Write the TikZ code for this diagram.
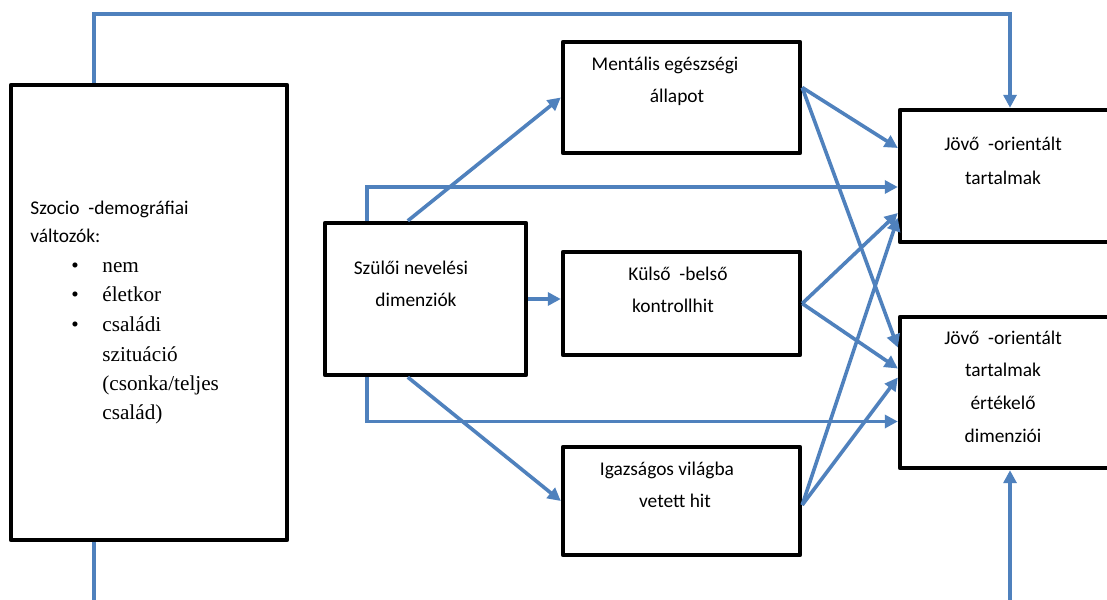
\documentclass[tikz,border=0pt]{standalone}
\usepackage{fontspec}
\setmainfont{Carlito}
\newfontfamily\timesfont{Liberation Serif}
\usepackage{tikz}
\usetikzlibrary{calc,arrows.meta}
\definecolor{link}{HTML}{4F81BD}
\tikzset{
  box/.style={draw=black, line width=2.2pt, line join=round, fill=white, inner sep=0pt},
  wire/.style={draw=link, line width=1.8pt},
  arr/.style={wire, -{Triangle[length=6.5pt,width=6.5pt]}},
  lab/.style={font=\fontsize{9.7}{12}\selectfont, anchor=base, inner sep=0pt},
  labw/.style={lab, anchor=base west},
  item/.style={font=\timesfont\fontsize{10.6}{13}\selectfont, anchor=base west, inner sep=0pt},
}

\begin{document}
\begin{tikzpicture}[x=0.5pt,y=-0.5pt]
  \path[fill=white] (0,0) rectangle (1107,599);
  \useasboundingbox (0,0) rectangle (1107,599);

  % boxes
  \node[box, minimum width=138pt, minimum height=227.5pt] (L) at (149,312.5) {};
  \node[box, minimum width=100.5pt, minimum height=76pt] (S) at (425.5,299) {};
  \node[box, minimum width=118.5pt, minimum height=55.5pt] (M) at (681.5,97.5) {};
  \node[box, minimum width=118.5pt, minimum height=51.5pt] (K) at (681.5,303.5) {};
  \node[box, minimum width=118.5pt, minimum height=54pt] (I) at (681.5,501) {};
  \node[box, minimum width=110pt, minimum height=66pt] (J1) at (1010,176) {};
  \node[box, minimum width=110pt, minimum height=75.5pt] (J2) at (1010,392.5) {};

  % texts
  \node[labw] (sz1) at (30,214) {Szocio~ -demográfiai};
  \node[labw] (sz2) at (30,242) {változók:};
  \node[item, anchor=base] (p1) at (75,272) {•};
  \node[item, anchor=base] (p2) at (75,301) {•};
  \node[item, anchor=base] (p3) at (75,331) {•};
  \node[item] (it1) at (102,272) {nem};
  \node[item] (it2) at (102,301) {életkor};
  \node[item] (it3) at (102,331) {családi};
  \node[item] (it4) at (102,361) {szituáció};
  \node[item] (it5) at (102,390) {(csonka/teljes};
  \node[item] (it6) at (102,419) {család)};

  \node[lab] (s1) at (411,274) {Szülői nevelési};
  \node[lab] (s2) at (416,306) {dimenziók};
  \node[lab] (m1) at (665,71) {Mentális egészségi};
  \node[lab] (m2) at (677,103) {állapot};
  \node[lab] (k1) at (678,280) {Külső~ -belső};
  \node[lab] (k2) at (673,312) {kontrollhit};
  \node[lab] (i1) at (667,475) {Igazságos világba};
  \node[lab] (i2) at (675,507) {vetett hit};
  \node[lab] (j11) at (1003,150) {Jövő~ -orientált};
  \node[lab] (j12) at (1003,184) {tartalmak};
  \node[lab] (j21) at (1003,344) {Jövő~ -orientált};
  \node[lab] (j22) at (1003,376) {tartalmak};
  \node[lab] (j23) at (1003,409) {értékelő};
  \node[lab] (j24) at (1003,442) {dimenziói};

  % outer connectors
  \coordinate (t1) at (94,14);
  \coordinate (t2) at (1010,14);
  \coordinate (b1) at (94,605);
  \coordinate (b2) at (1010,605);
  \draw[arr] (L.north -| t1) -- (t1) -- (t2) -- (J1.north);
  \draw[wire] (L.south -| b1) -- (b1);
  \draw[arr] (b2) -- (J2.south);

  % from parenting box
  \draw[arr] ($(S.north west)+(85,0)$) -- (M.west);
  \draw[arr] ($(S.north west)+(44,0)$) |- ($(J1.west)+(0,11)$);
  \draw[arr] (S.east) -- (S.east -| K.west);
  \draw[arr] ($(S.south west)+(44,0)$) |- ($(J2.west)+(0,29)$);
  \draw[arr] ($(S.south west)+(85,0)$) -- (I.west);

  % mediators to outcomes
  \draw[arr] ($(M.east)+(0,-10)$) -- ($(J1.west)+(0,-28)$);
  \draw[arr] ($(M.east)+(0,-10)$) -- ($(J2.west)+(0,-45)$);
  \draw[arr] (K.east) -- ($(J1.west)+(0,37)$);
  \draw[arr] (K.east) -- ($(J2.west)+(0,-24)$);
  \draw[arr] ($(I.east)+(0,4)$) -- ($(J1.west)+(0,42)$);
  \draw[arr] ($(I.east)+(0,4)$) -- ($(J2.west)+(0,-15)$);
\end{tikzpicture}
\end{document}
